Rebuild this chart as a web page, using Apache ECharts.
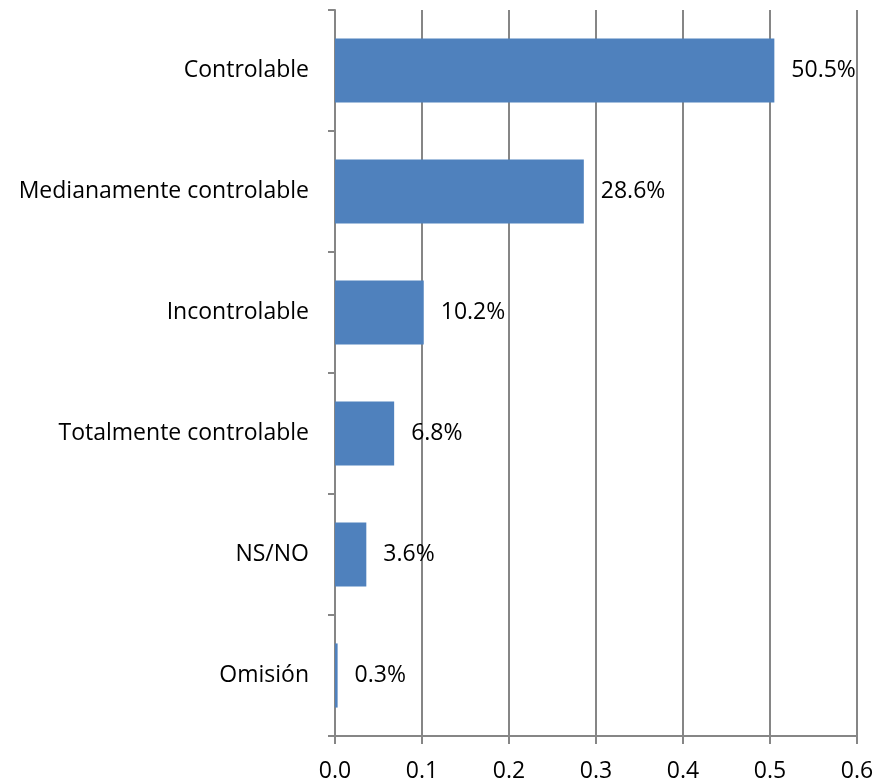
<!DOCTYPE html>
<html>
<head>
<meta charset="utf-8">
<script src="https://cdn.jsdelivr.net/npm/echarts@6/dist/echarts.min.js"></script>
<style>html,body{margin:0;padding:0;background:#fff}#c{width:877px;height:782px}</style>
</head>
<body>
<div id="c"></div>
<script>
var categories = ['Controlable','Medianamente controlable','Incontrolable','Totalmente controlable','NS/NO','Omisión'];
var values = [0.505, 0.286, 0.102, 0.068, 0.036, 0.003];
var xTicks = [0, 0.1, 0.2, 0.3, 0.4, 0.5, 0.6];

var FONT = 'Open Sans';
var chart = echarts.init(document.getElementById('c'));
chart.setOption({
  animation: false,
  grid: {left: 335, right: 20, top: 10, bottom: 46, containLabel: false, outerBoundsMode: 'none'},
  xAxis: {
    type: 'value', min: xTicks[0], max: xTicks[xTicks.length-1], interval: 0.1,
    axisLine: {show: true, lineStyle: {color: '#868686', width: 2}},
    axisTick: {show: true, length: 8, lineStyle: {color: '#868686', width: 2}},
    splitLine: {show: true, lineStyle: {color: '#868686', width: 2}},
    axisLabel: {color: '#000', fontFamily: FONT, fontSize: 23, margin: 24,
      formatter: function(v){ return v.toFixed(1); }}
  },
  yAxis: {
    type: 'category', data: categories, inverse: true,
    axisLine: {show: true, lineStyle: {color: '#868686', width: 2}},
    axisTick: {show: true, length: 7, lineStyle: {color: '#868686', width: 2}},
    axisLabel: {color: '#000', fontFamily: FONT, fontSize: 23, margin: 26}
  },
  series: [{
    type: 'bar', data: values, barCategoryGap: '47%',
    itemStyle: {color: '#4F81BD'},
    label: {show: true, position: 'right', distance: 17, color: '#000',
      fontFamily: FONT, fontSize: 23,
      formatter: function(p){ return (p.value*100).toFixed(1) + '%'; }}
  }]
});
</script>
</body>
</html>
